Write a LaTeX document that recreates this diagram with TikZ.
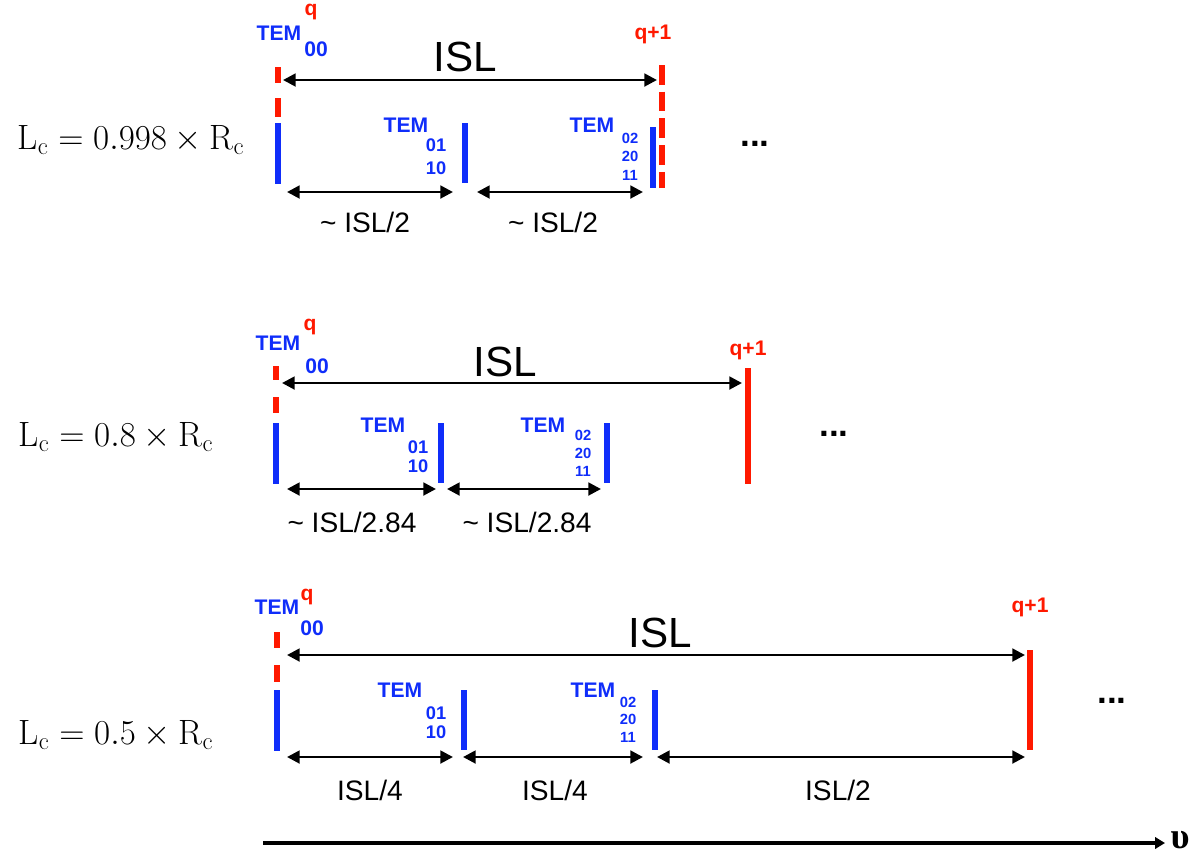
\documentclass[tikz,border=0pt]{standalone}
\usepackage{amsmath}
\usepackage{fontspec}
\newfontfamily\helv{Liberation Sans}
\newfontfamily\grk{Liberation Serif}
\usetikzlibrary{arrows.meta}

\definecolor{modeblue}{RGB}{15,45,250}
\definecolor{modered}{RGB}{255,25,0}

\begin{document}
\begin{tikzpicture}[x=0.025cm,y=-0.025cm,
  bluebar/.style={line width=4.3pt,modeblue},
  redbar/.style={line width=4.3pt,modered},
  span/.style={line width=2pt,{Triangle[length=9pt,width=9pt]}-{Triangle[length=9pt,width=9pt]}},
  bigisl/.style={font=\helv\fontsize{30}{30}\selectfont},
  spanlab/.style={font=\helv\fontsize{20}{20}\selectfont},
  tem/.style={modeblue,font=\helv\bfseries\fontsize{15}{15}\selectfont},
  idxl/.style={modeblue,font=\helv\bfseries\fontsize{15}{15}\selectfont},
  idx/.style={modeblue,font=\helv\bfseries\fontsize{13}{13}\selectfont},
  idxs/.style={modeblue,font=\helv\bfseries\fontsize{10.5}{10.5}\selectfont},
  qlab/.style={modered,font=\helv\bfseries\fontsize{15}{15}\selectfont},
  lclab/.style={font=\fontsize{25}{25}\selectfont},
  dots/.style={font=\helv\bfseries\fontsize{25}{25}\selectfont},
  axislab/.style={font=\grk\bfseries\fontsize{26}{26}\selectfont}]
\useasboundingbox (0,0) rectangle (1196,858);

% row 1 : Lc = 0.998 Rc
\node[lclab] (lc1) at (131,140) {$\mathrm{L_c} = 0.998 \times \mathrm{R_c}$};
\draw[redbar] (278,67) -- (278,83);
\draw[redbar] (278,98) -- (278,117);
\draw[bluebar] (278,123) -- (278,184);
\draw[bluebar] (465,123) -- (465,183);
\draw[bluebar] (653,127) -- (653,188);
\draw[redbar,dash pattern=on 14pt off 5pt] (662,65) -- (662,188);
\coordinate (s1a) at (283,80);
\coordinate (s1b) at (657,80);
\draw[span] (s1a) -- (s1b);
\node[bigisl] (isl1) at (465,57) {ISL};
\coordinate (h1a) at (287,192);
\coordinate (h1b) at (453,192);
\coordinate (h1c) at (477,192);
\coordinate (h1d) at (643,192);
\draw[span] (h1a) -- (h1b);
\draw[span] (h1c) -- (h1d);
\node[spanlab] (half1a) at (365,222) {\textasciitilde{} ISL/2};
\node[spanlab] (half1b) at (553,222) {\textasciitilde{} ISL/2};
\node[tem] (tema1) at (279,33) {TEM};
\node[idxl] (idxa1) at (316,49) {00};
\node[qlab] (qa1) at (311,12) {q};
\node[qlab] (qq1) at (653,34) {q+1};
\node[tem] (temb1) at (406,125) {TEM};
\node[idx] (idxb1) at (436,145) {01};
\node[idx] (idxb2) at (436,168) {10};
\node[tem] (temc1) at (592,125) {TEM};
\node[idxs] (idxc1) at (630,138) {02};
\node[idxs] (idxc2) at (630,156) {20};
\node[idxs] (idxc3) at (630,175) {11};
\node[dots] (dots1) at (755,144) {...};

% row 2 : Lc = 0.8 Rc
\node[lclab] (lc2) at (116,437) {$\mathrm{L_c} = 0.8 \times \mathrm{R_c}$};
\draw[redbar] (276,366) -- (276,380);
\draw[redbar] (276,397) -- (276,413);
\draw[bluebar] (276,423) -- (276,484);
\draw[bluebar] (441,423) -- (441,483);
\draw[bluebar] (607,423) -- (607,483);
\draw[redbar] (748,368) -- (748,484);
\coordinate (s2a) at (282,383);
\coordinate (s2b) at (742,383);
\draw[span] (s2a) -- (s2b);
\node[bigisl] (isl2) at (505,362) {ISL};
\coordinate (h2a) at (287,489);
\coordinate (h2b) at (436,489);
\coordinate (h2c) at (447,489);
\coordinate (h2d) at (601,489);
\draw[span] (h2a) -- (h2b);
\draw[span] (h2c) -- (h2d);
\node[spanlab] (half2a) at (352,522) {\textasciitilde{} ISL/2.84};
\node[spanlab] (half2b) at (527,522) {\textasciitilde{} ISL/2.84};
\node[tem] (tema2) at (278,343) {TEM};
\node[idxl] (idxa2) at (317,366) {00};
\node[qlab] (qa2) at (310,327) {q};
\node[qlab] (qq2) at (748,350) {q+1};
\node[tem] (temb2) at (383,425) {TEM};
\node[idx] (idxb3) at (418,447) {01};
\node[idx] (idxb4) at (418,466) {10};
\node[tem] (temc2) at (543,425) {TEM};
\node[idxs] (idxc4) at (583,435) {02};
\node[idxs] (idxc5) at (583,453) {20};
\node[idxs] (idxc6) at (583,471) {11};
\node[dots] (dots2) at (834,434) {...};

% row 3 : Lc = 0.5 Rc
\node[lclab] (lc3) at (116,735) {$\mathrm{L_c} = 0.5 \times \mathrm{R_c}$};
\draw[redbar] (277,632) -- (277,648);
\draw[redbar] (277,665) -- (277,682);
\draw[bluebar] (277,690) -- (277,751);
\draw[bluebar] (464,690) -- (464,750);
\draw[bluebar] (655,690) -- (655,750);
\draw[redbar] (1030,650) -- (1030,750);
\coordinate (s3a) at (287,655);
\coordinate (s3b) at (1025,655);
\draw[span] (s3a) -- (s3b);
\node[bigisl] (isl3) at (660,633) {ISL};
\coordinate (h3a) at (287,757);
\coordinate (h3b) at (453,757);
\coordinate (h3c) at (463,757);
\coordinate (h3d) at (643,757);
\coordinate (h3e) at (657,757);
\coordinate (h3f) at (1025,757);
\draw[span] (h3a) -- (h3b);
\draw[span] (h3c) -- (h3d);
\draw[span] (h3e) -- (h3f);
\node[spanlab] (q3a) at (370,790) {ISL/4};
\node[spanlab] (q3b) at (555,790) {ISL/4};
\node[spanlab] (half3) at (838,790) {ISL/2};
\node[tem] (tema3) at (277,607) {TEM};
\node[idxl] (idxa3) at (312,628) {00};
\node[qlab] (qa3) at (307,597) {q};
\node[qlab] (qq3) at (1030,607) {q+1};
\node[tem] (temb3) at (400,690) {TEM};
\node[idx] (idxb5) at (436,713) {01};
\node[idx] (idxb6) at (436,732) {10};
\node[tem] (temc3) at (593,690) {TEM};
\node[idxs] (idxc7) at (628,702) {02};
\node[idxs] (idxc8) at (628,719) {20};
\node[idxs] (idxc9) at (628,737) {11};
\node[dots] (dots3) at (1112,701) {...};

% frequency axis
\coordinate (ax0) at (263,843);
\coordinate (ax1) at (1165,843);
\draw[line width=3.5pt,-{Triangle[length=7pt,width=8pt]}] (ax0) -- (ax1);
\node[axislab] (freq) at (1180,840) {υ};
\end{tikzpicture}
\end{document}
